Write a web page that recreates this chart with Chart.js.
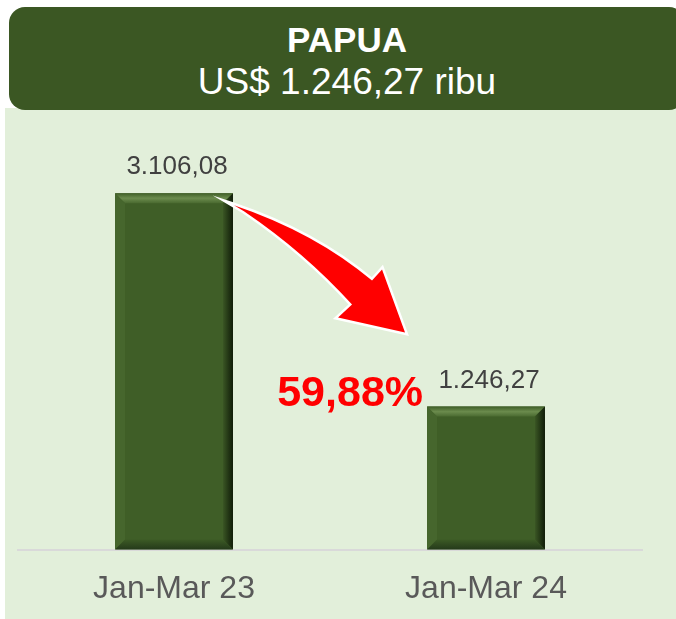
<!DOCTYPE html>
<html>
<head>
<meta charset="utf-8">
<script src="https://cdn.jsdelivr.net/npm/chart.js@4.4.1/dist/chart.umd.min.js"></script>
<style>
  html, body { margin: 0; padding: 0; width: 676px; height: 619px; overflow: hidden; background: #ffffff; }
  .panel { position: absolute; left: 5px; top: 108px; width: 671px; height: 511px; background: #e2efda; }
  .header {
    position: absolute; left: 9px; top: 7px; width: 676px; height: 103px;
    background: #3b5723; border-radius: 16px; color: #ffffff; text-align: center;
    font-family: "Liberation Sans", Arial, sans-serif; z-index: 3;
  }
  .header .t1 { font-weight: bold; font-size: 35px; line-height: 40px; padding-top: 13px; }
  .header .t2 { font-size: 37px; line-height: 44px; }
  #chart { position: absolute; left: 0; top: 0; z-index: 2; }
</style>
</head>
<body>
<div class="panel"></div>
<div class="header">
  <div class="t1">PAPUA</div>
  <div class="t2">US$ 1.246,27 ribu</div>
</div>
<canvas id="chart" width="676" height="640"></canvas>
<script>
const categories = ["Jan-Mar 23", "Jan-Mar 24"];
const values = [3106.08, 1246.27];
const changeLabel = "59,88%";

const FONT = '"Liberation Sans", Arial, sans-serif';

// Indonesian number format: 3.106,08
function fmt(v) {
  const parts = v.toFixed(2).split(".");
  return parts[0].replace(/\B(?=(\d{3})+(?!\d))/g, ".") + "," + parts[1];
}

// bevelled bars, value labels, arrow and percentage
const decor = {
  id: "decor",
  afterDatasetsDraw(chart) {
    const ctx = chart.ctx;
    const bars = chart.getDatasetMeta(0).data;
    ctx.save();
    bars.forEach((bar, i) => {
      const L = bar.x - bar.width / 2, R = bar.x + bar.width / 2;
      const T = bar.y, B = bar.base, b = 10;
      // top
      let g = ctx.createLinearGradient(0, T, 0, T + b);
      g.addColorStop(0, "#3f5e27");
      g.addColorStop(0.5, "#6b8b4d");
      g.addColorStop(1, "#4a6a30");
      ctx.fillStyle = g;
      ctx.beginPath();
      ctx.moveTo(L, T); ctx.lineTo(R, T); ctx.lineTo(R - b, T + b); ctx.lineTo(L + b, T + b);
      ctx.closePath(); ctx.fill();
      // left
      ctx.fillStyle = "#46662d";
      ctx.beginPath();
      ctx.moveTo(L, T); ctx.lineTo(L + b, T + b); ctx.lineTo(L + b, B - b); ctx.lineTo(L, B);
      ctx.closePath(); ctx.fill();
      // right
      g = ctx.createLinearGradient(R - b, 0, R, 0);
      g.addColorStop(0, "#3a5624");
      g.addColorStop(1, "#101c08");
      ctx.fillStyle = g;
      ctx.beginPath();
      ctx.moveTo(R, T); ctx.lineTo(R, B); ctx.lineTo(R - b, B - b); ctx.lineTo(R - b, T + b);
      ctx.closePath(); ctx.fill();
      // bottom
      g = ctx.createLinearGradient(0, B - b, 0, B);
      g.addColorStop(0, "#3c5a25");
      g.addColorStop(1, "#24391a");
      ctx.fillStyle = g;
      ctx.beginPath();
      ctx.moveTo(L, B); ctx.lineTo(R, B); ctx.lineTo(R - b, B - b); ctx.lineTo(L + b, B - b);
      ctx.closePath(); ctx.fill();

      // value label
      ctx.fillStyle = "#404040";
      ctx.font = "26px " + FONT;
      ctx.textAlign = "center";
      ctx.textBaseline = "middle";
      ctx.fillText(fmt(values[i]), bar.x + 3, T - 26);
    });

    // curved arrow from bar 1 to bar 2
    const a = bars[0], c = bars[1];
    const tx = a.x + a.width / 2 + 1, ty = a.y + 12;
    const px = c.x - c.width / 2 - 22, py = c.y - 74;
    ctx.beginPath();
    ctx.moveTo(tx, ty);
    ctx.quadraticCurveTo(px - 90, py - 100, px - 33, py - 52);
    ctx.lineTo(px - 23, py - 63);
    ctx.lineTo(px, py);
    ctx.lineTo(px - 67, py - 15);
    ctx.lineTo(px - 53, py - 28);
    ctx.quadraticCurveTo(px - 100, py - 80, tx + 10, ty + 6);
    ctx.closePath();
    ctx.lineJoin = "miter";
    ctx.lineWidth = 5;
    ctx.strokeStyle = "#ffffff";
    ctx.stroke();
    ctx.fillStyle = "#ff0000";
    ctx.fill();

    // percentage
    ctx.fillStyle = "#ff0000";
    ctx.font = "bold 43px " + FONT;
    ctx.textAlign = "right";
    ctx.textBaseline = "middle";
    ctx.fillText(changeLabel, c.x - c.width / 2 - 4, c.y - 12);
    ctx.restore();
  }
};

new Chart(document.getElementById("chart"), {
  type: "bar",
  data: {
    labels: categories,
    datasets: [{
      data: values,
      backgroundColor: "#3f5e27",
      borderWidth: 0,
      barPercentage: 0.378,
      categoryPercentage: 1.0,
    }],
  },
  options: {
    responsive: false,
    animation: false,
    layout: { padding: { left: 18, right: 34, top: 148, bottom: 20 } },
    plugins: { legend: { display: false }, tooltip: { enabled: false } },
    scales: {
      x: {
        grid: { display: false },
        border: { color: "#d9d9d9", width: 2 },
        ticks: { color: "#595959", padding: 12, font: { size: 32, family: FONT } },
      },
      y: { display: false, min: 0, max: 3500 },
    },
  },
  plugins: [decor],
});
</script>
</body>
</html>
